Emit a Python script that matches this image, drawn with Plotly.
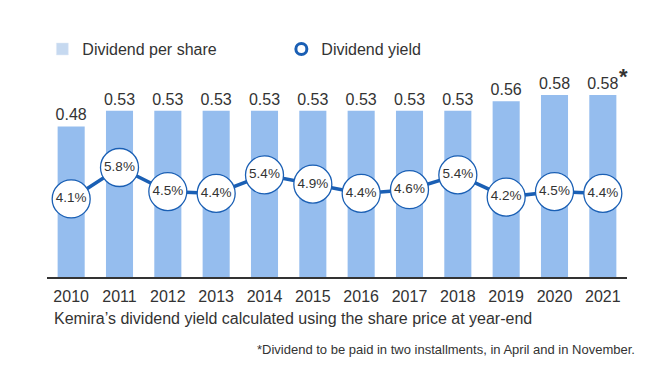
import plotly.graph_objects as go

years = ["2010", "2011", "2012", "2013", "2014", "2015", "2016", "2017", "2018", "2019", "2020", "2021"]
dividend = [0.48, 0.53, 0.53, 0.53, 0.53, 0.53, 0.53, 0.53, 0.53, 0.56, 0.58, 0.58]
yield_pct = [4.1, 5.8, 4.5, 4.4, 5.4, 4.9, 4.4, 4.6, 5.4, 4.2, 4.5, 4.4]

BAR = "#95bdee"
BAR_LEG = "#c6d9f0"
BLUE = "#1a5fb4"
TXT = "#333333"
FONT = "Liberation Sans, Arial, sans-serif"

fig = go.Figure()
fig.add_trace(go.Bar(
    x=years, y=dividend, marker=dict(color=BAR, line=dict(width=0)), width=0.56,
    text=[f"{v:.2f}" for v in dividend], textposition="outside", constraintext="none",
    textfont=dict(size=16, color=TXT, family=FONT), cliponaxis=False,
    showlegend=False, hoverinfo="skip"))
fig.add_trace(go.Scatter(
    x=years, y=yield_pct, yaxis="y2", mode="lines+markers+text",
    line=dict(color=BLUE, width=3.5),
    marker=dict(size=38, color="white", line=dict(color=BLUE, width=1.3)),
    text=[f"{v:.1f}%" for v in yield_pct], textposition="middle center",
    textfont=dict(size=13.5, color=TXT, family=FONT), cliponaxis=False,
    showlegend=False, hoverinfo="skip"))
# legend-only entries
fig.add_trace(go.Bar(x=[None], y=[None], name="Dividend per share",
                     marker=dict(color=BAR_LEG), showlegend=True))
fig.add_trace(go.Scatter(x=[None], y=[None], name="Dividend yield", mode="markers",
                         marker=dict(symbol="circle-open", size=11, color=BLUE, line=dict(width=3)),
                         showlegend=True))

fig.add_annotation(text="<b>*</b>", xref="paper", yref="paper", x=0.9935, y=1.02,
                   xanchor="center", yanchor="middle",
                   showarrow=False, font=dict(size=22, color=TXT, family=FONT))
fig.add_annotation(text="Kemira\u2019s dividend yield calculated using the share price at year-end",
                   xref="paper", yref="paper", x=0.0086, y=-0.213, xanchor="left", yanchor="middle",
                   showarrow=False, font=dict(size=16, color=TXT, family=FONT))
fig.add_annotation(text="*Dividend to be paid in two installments, in April and in November.",
                   xref="paper", yref="paper", x=1.017, y=-0.37, xanchor="right", yanchor="middle",
                   showarrow=False, font=dict(size=13, color=TXT, family="Liberation Sans Narrow, Arial Narrow, Liberation Sans, sans-serif"))

fig.update_layout(
    width=653, height=377,
    margin=dict(l=47, r=26, t=80, b=100, autoexpand=False),
    paper_bgcolor="white", plot_bgcolor="white",
    font=dict(family=FONT, color=TXT, size=16),
    legend=dict(orientation="h", x=-0.008, y=1.157, xanchor="left", yanchor="middle",
                entrywidth=194, font=dict(size=16, color=TXT), bgcolor="rgba(0,0,0,0)",
                traceorder="normal"),
    xaxis=dict(showline=True, linecolor="#333333", linewidth=1.5, ticks="", showgrid=False,
               tickfont=dict(size=16, color=TXT), range=[-0.5, 11.5], ticklabelstandoff=4),
    yaxis=dict(range=[0, 0.628], visible=False, showgrid=False),
    yaxis2=dict(range=[-0.12, 10.53], overlaying="y", visible=False, showgrid=False),
)

fig.write_html("out.html", config={"displayModeBar": False},
               post_script="document.body.style.margin='0';document.body.style.overflow='hidden';")
